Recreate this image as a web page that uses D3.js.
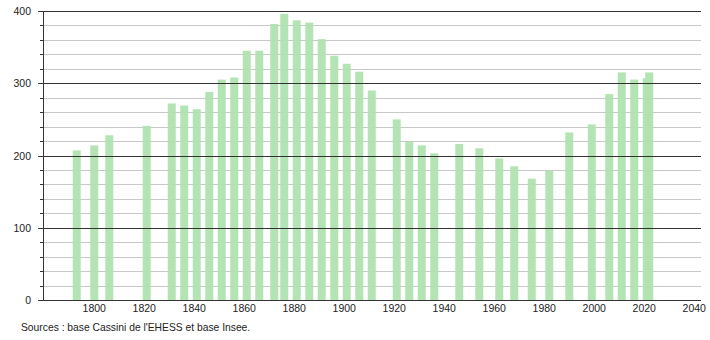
<!DOCTYPE html>
<html>
<head>
<meta charset="utf-8">
<script src="https://cdn.jsdelivr.net/npm/d3@7"></script>
<style>
  body { margin: 0; background: #fff; }
  text { font-family: "Liberation Sans", Arial, sans-serif; }
</style>
</head>
<body>
<div id="chart"></div>
<script>
// census years and population
var years = [1793, 1800, 1806, 1821, 1831, 1836, 1841, 1846, 1851, 1856,
  1861, 1866, 1872, 1876, 1881, 1886, 1891, 1896, 1901, 1906,
  1911, 1921, 1926, 1931, 1936, 1946, 1954, 1962, 1968, 1975,
  1982, 1990, 1999, 2006, 2011, 2016, 2021, 2022];
var population = [207, 214, 228, 241, 272, 269, 264, 288, 305, 308,
  345, 345, 382, 396, 387, 384, 361, 338, 327, 316,
  290, 250, 219, 214, 203, 216, 210, 196, 185, 168,
  179, 232, 243, 285, 315, 305, 307, 315];
var xTicks = [1800, 1820, 1840, 1860, 1880, 1900, 1920, 1940, 1960, 1980, 2000, 2020, 2040];
var yMajor = [0, 100, 200, 300, 400];
var yMinor = d3.range(0, 401, 20);
var source = "Sources : base Cassini de l'EHESS et base Insee.";

var width = 710, height = 340;
var mLeft = 43, mRight = 701, mTop = 11, mBottom = 300;

var svg = d3.select("#chart").append("svg")
  .attr("width", width)
  .attr("height", height);

var x = d3.scaleLinear().domain([1779.5, 2042.7]).range([mLeft, mRight]);
var y = d3.scaleLinear().domain([0, 400]).range([mBottom, mTop]);

function py(d) { return Math.round(y(d)) + 0.5; }

var minor = yMinor.filter(function (d) { return d % 100 != 0; });

// minor grid lines
svg.selectAll(".minor")
  .data(minor)
  .enter().append("line")
  .attr("x1", mLeft).attr("x2", mRight)
  .attr("y1", py).attr("y2", py)
  .style("stroke", "#c8c8c8");

// minor ticks on the axis
svg.selectAll(".minortick")
  .data(minor)
  .enter().append("line")
  .attr("x1", mLeft - 3).attr("x2", mLeft)
  .attr("y1", py).attr("y2", py)
  .style("stroke", "#333");

// bars
var bw = x(1801.6) - x(1798.4);
svg.selectAll(".bar")
  .data(years)
  .enter().append("rect")
  .attr("class", "bar")
  .attr("x", function (d) { return x(d) - bw / 2; })
  .attr("width", bw)
  .attr("y", function (d, i) { return y(population[i]); })
  .attr("height", function (d, i) { return mBottom - y(population[i]); })
  .style("fill", "#b0e3b0")
  .style("opacity", 0.95);

// major grid lines
svg.selectAll(".major")
  .data(yMajor)
  .enter().append("line")
  .attr("x1", mLeft - 5).attr("x2", mRight)
  .attr("y1", py).attr("y2", py)
  .style("stroke", "#333");

// y axis line
svg.append("line")
  .attr("x1", mLeft + 0.5).attr("x2", mLeft + 0.5)
  .attr("y1", mTop).attr("y2", mBottom)
  .style("stroke", "#333");

// y labels
svg.selectAll(".ylab")
  .data(yMajor)
  .enter().append("text")
  .attr("x", 31)
  .attr("y", function (d) { return y(d) + 4; })
  .attr("text-anchor", "end")
  .style("font-size", "10.5px")
  .style("fill", "#222")
  .text(function (d) { return d; });

// x labels
svg.selectAll(".xlab")
  .data(xTicks)
  .enter().append("text")
  .attr("x", function (d) { return x(d); })
  .attr("y", 312)
  .attr("text-anchor", "middle")
  .style("font-size", "10.5px")
  .style("fill", "#222")
  .text(function (d) { return d; });

svg.append("text")
  .attr("x", 21)
  .attr("y", 331)
  .style("font-size", "10.3px")
  .style("fill", "#222")
  .text(source);
</script>
</body>
</html>
